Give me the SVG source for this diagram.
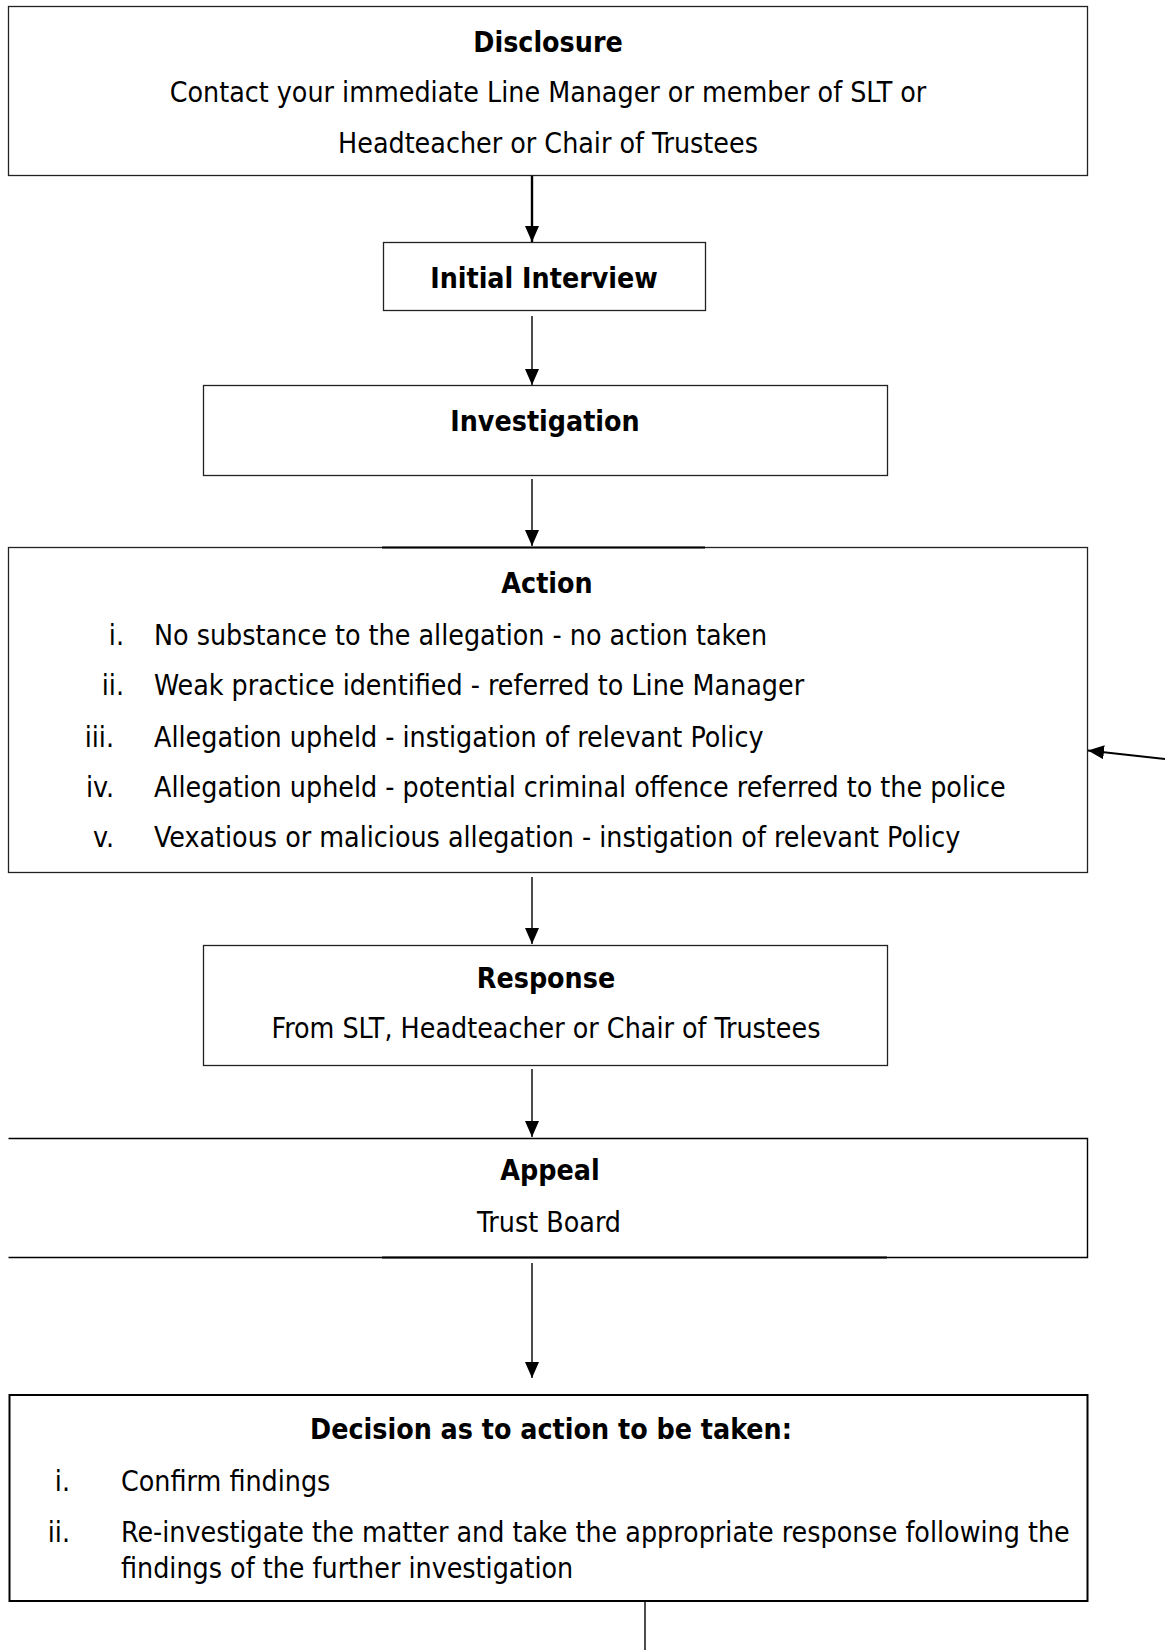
<svg xmlns="http://www.w3.org/2000/svg" width="1165" height="1650" viewBox="0 0 1165 1650">
<style>
.box{fill:#fff;stroke:#222;stroke-width:1.3}
.t{font-family:"DejaVu Sans Condensed","DejaVu Sans",sans-serif;font-stretch:semi-condensed;font-size:28.3px;fill:#000}
.b{font-weight:bold}
.c{text-anchor:middle}
.r{text-anchor:end}
.ln{stroke:#000;stroke-width:1.4;fill:none}
</style>
<defs>
<marker id="ah" markerUnits="userSpaceOnUse" markerWidth="16" markerHeight="14" refX="16" refY="7" orient="auto">
<path d="M0,0 L16,7 L0,14 z" fill="#000"/>
</marker>
</defs>
<rect width="1165" height="1650" fill="#fff"/>
<g id="disclosure">
<rect class="box" x="8.5" y="6.5" width="1079" height="169"/>
<text class="t b c" x="548" y="52">Disclosure</text>
<text class="t c" x="548" y="102">Contact your immediate Line Manager or member of SLT or</text>
<text class="t c" x="548" y="153">Headteacher or Chair of Trustees</text>
</g>
<g id="initial-interview">
<rect class="box" x="383.5" y="242.5" width="322" height="68"/>
<text class="t b c" x="544" y="288">Initial Interview</text>
</g>
<g id="investigation">
<rect class="box" x="203.5" y="385.5" width="684" height="90"/>
<text class="t b c" x="545" y="431">Investigation</text>
</g>
<g id="action">
<rect class="box" x="8.5" y="547.5" width="1079" height="325"/>
<line x1="382" y1="547.5" x2="705" y2="547.5" stroke="#000" stroke-width="2"/>
<text class="t b c" x="547" y="593">Action</text>
<text class="t r" x="124" y="645">i.</text>
<text class="t" x="154" y="645">No substance to the allegation - no action taken</text>
<text class="t r" x="124" y="695">ii.</text>
<text class="t" x="154" y="695">Weak practice identified - referred to Line Manager</text>
<text class="t r" x="114" y="747">iii.</text>
<text class="t" x="154" y="747">Allegation upheld - instigation of relevant Policy</text>
<text class="t r" x="114" y="797">iv.</text>
<text class="t" x="154" y="797">Allegation upheld - potential criminal offence referred to the police</text>
<text class="t r" x="114" y="847">v.</text>
<text class="t" x="154" y="847">Vexatious or malicious allegation - instigation of relevant Policy</text>
</g>
<g id="response">
<rect class="box" x="203.5" y="945.5" width="684" height="120"/>
<text class="t b c" x="546" y="988">Response</text>
<text class="t c" x="546" y="1038">From SLT, Headteacher or Chair of Trustees</text>
</g>
<g id="appeal">
<rect x="8.5" y="1138.5" width="1079" height="119" fill="#fff"/>
<path class="ln" d="M8.5,1138.5 H1087.5 V1257.5 H8.5" stroke="#222"/>
<line x1="382" y1="1257.5" x2="887" y2="1257.5" stroke="#000" stroke-width="2"/>
<text class="t b c" x="550" y="1180">Appeal</text>
<text class="t c" x="549" y="1232">Trust Board</text>
</g>
<g id="decision">
<rect x="9.5" y="1395" width="1078" height="206" fill="#fff" stroke="#000" stroke-width="2"/>
<text class="t b c" x="551" y="1439">Decision as to action to be taken:</text>
<text class="t r" x="70" y="1491">i.</text>
<text class="t" x="121" y="1491">Confirm findings</text>
<text class="t r" x="70" y="1542">ii.</text>
<text class="t" x="121" y="1542">Re-investigate the matter and take the appropriate response following the</text>
<text class="t" x="121" y="1578">findings of the further investigation</text>
</g>
<g id="connectors">
<line x1="532" y1="176" x2="532" y2="242" stroke="#000" stroke-width="2.4" marker-end="url(#ah)"/>
<line class="ln" x1="532" y1="316" x2="532" y2="385" marker-end="url(#ah)"/>
<line class="ln" x1="532" y1="479" x2="532" y2="546" marker-end="url(#ah)"/>
<line class="ln" x1="532" y1="877" x2="532" y2="944" marker-end="url(#ah)"/>
<line class="ln" x1="532" y1="1069" x2="532" y2="1137" marker-end="url(#ah)"/>
<line class="ln" x1="532" y1="1263" x2="532" y2="1378" marker-end="url(#ah)"/>
<line x1="1165" y1="759" x2="1088" y2="750.5" stroke="#000" stroke-width="2" marker-end="url(#ah)"/>
<line class="ln" x1="645" y1="1601" x2="645" y2="1650"/>
</g>
</svg>
